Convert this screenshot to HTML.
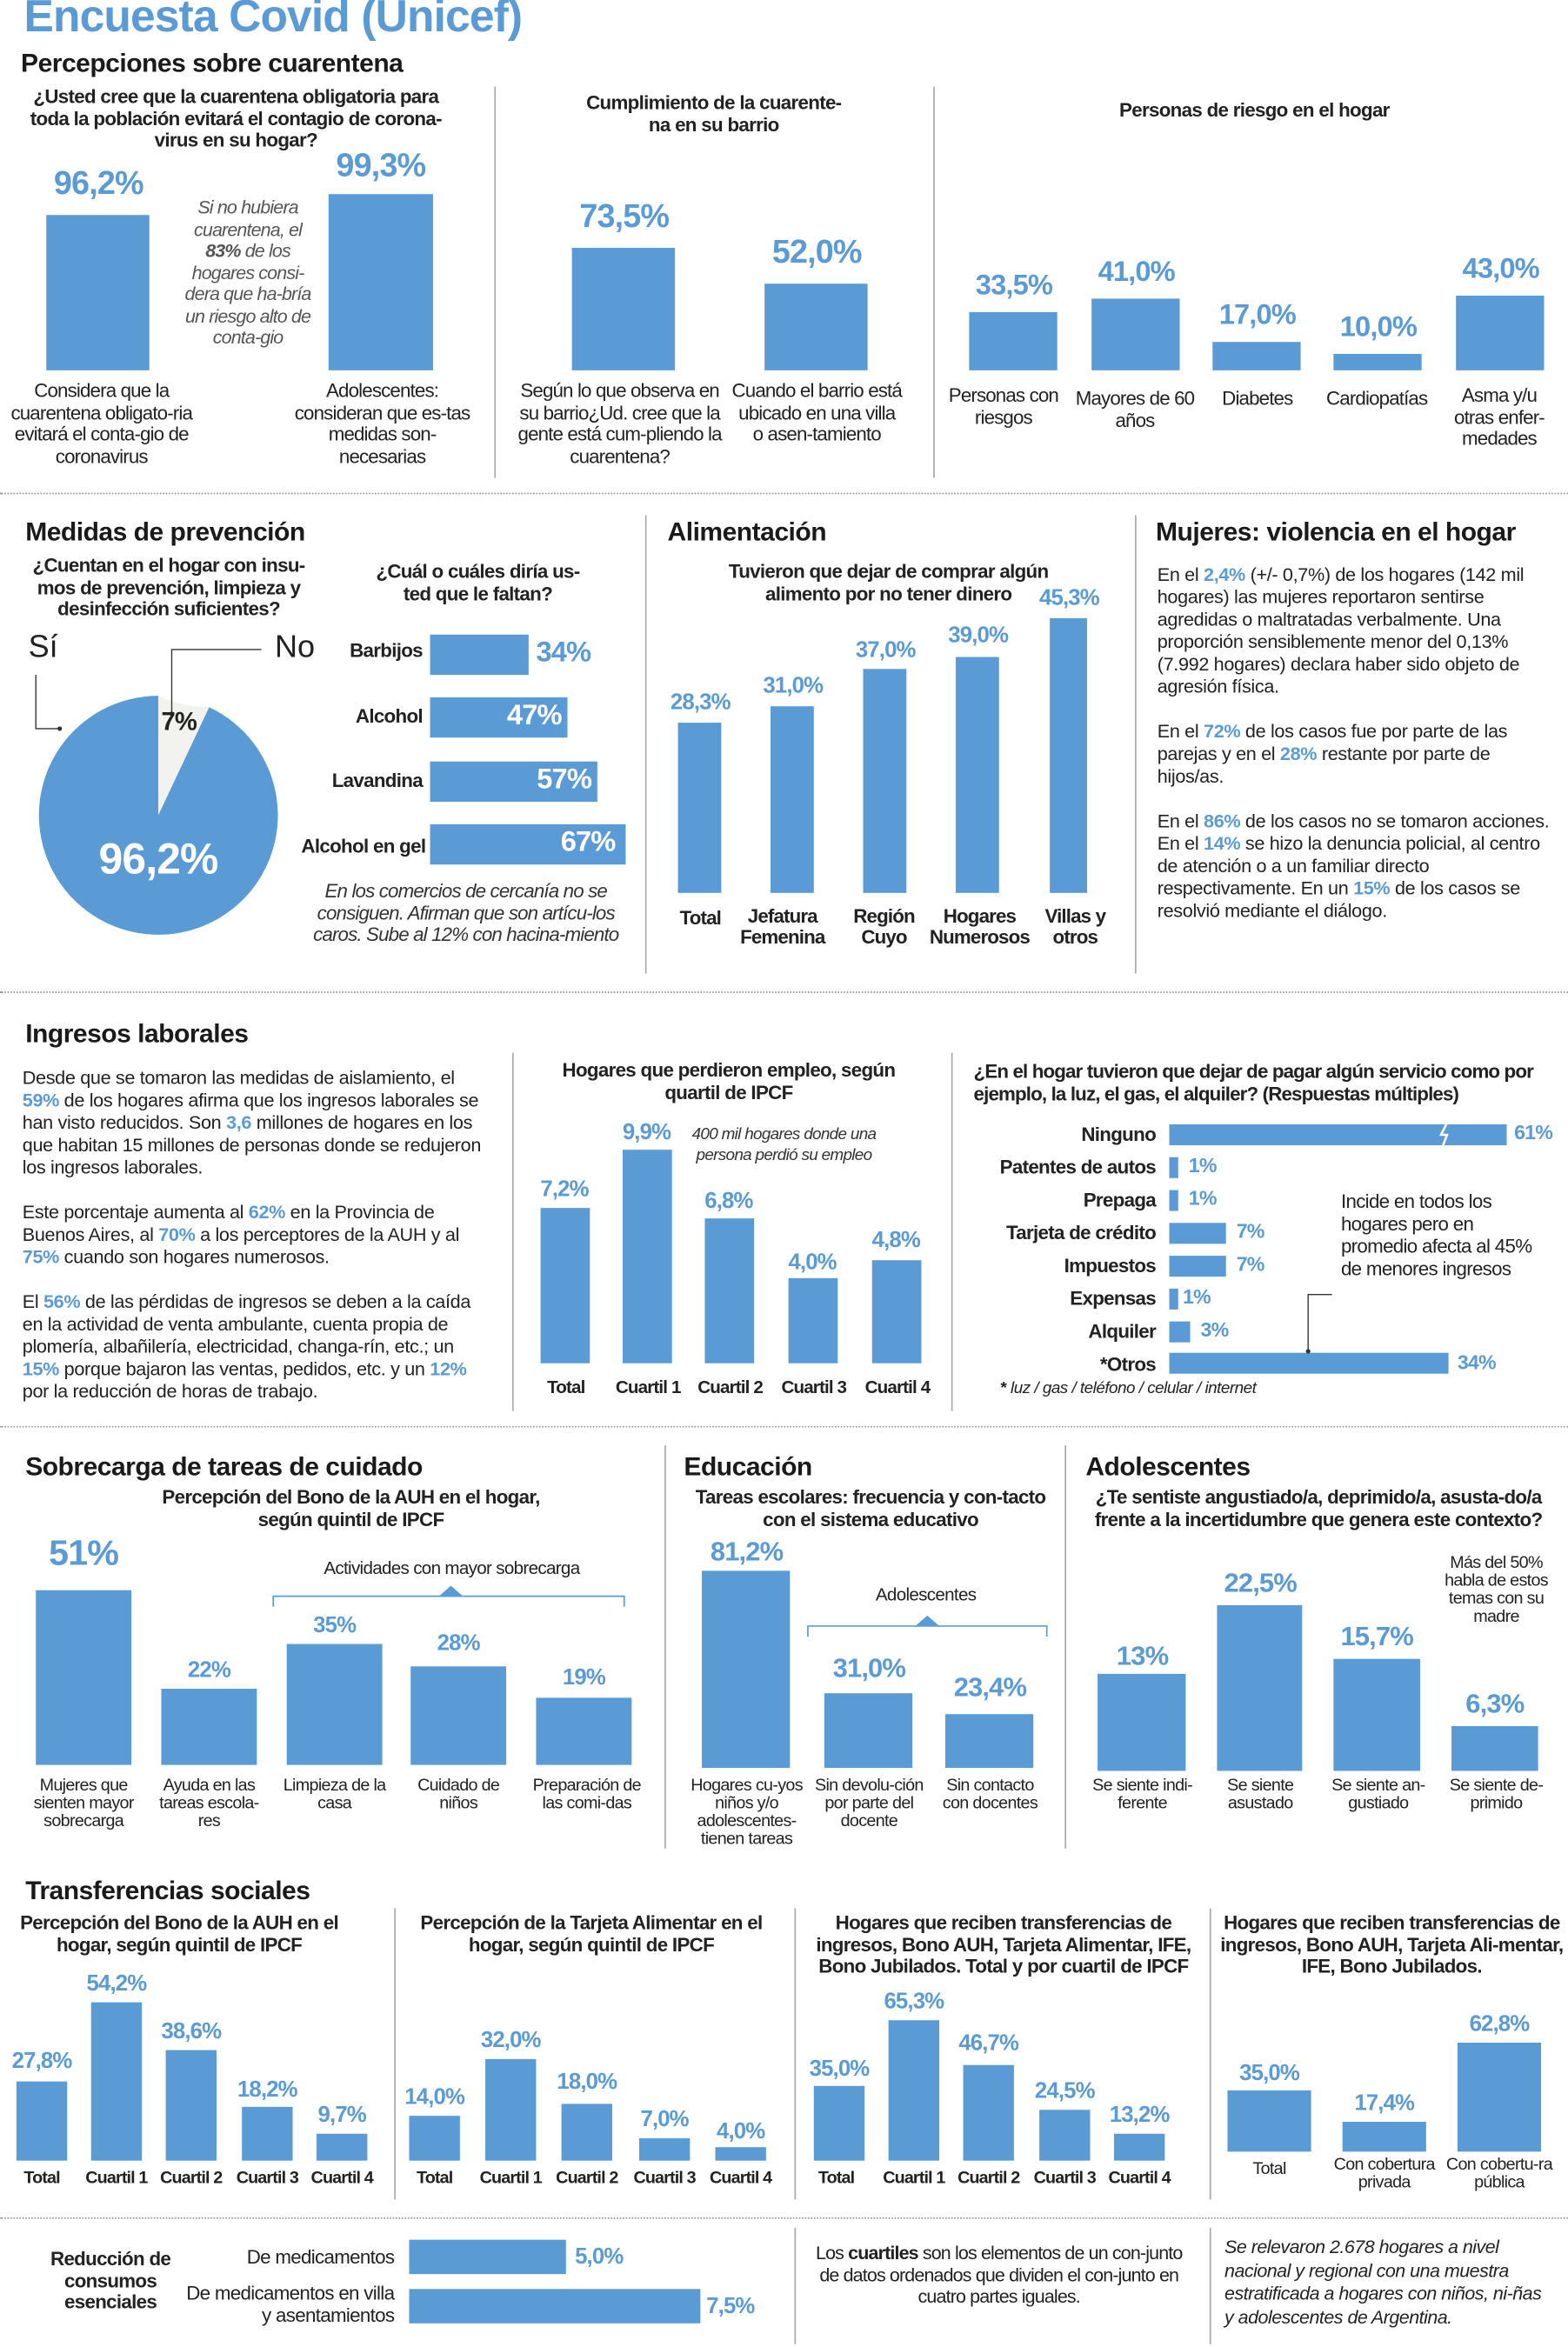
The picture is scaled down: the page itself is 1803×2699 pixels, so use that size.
<!DOCTYPE html>
<html><head><meta charset="utf-8">
<style>
*{margin:0;padding:0;box-sizing:border-box}
html,body{width:1803px;height:2698px;overflow:hidden;background:#fff}
#w{position:absolute;left:0;top:0;width:1050px;height:1572px;transform:scale(1.7171);transform-origin:0 0;font-family:"Liberation Sans Narrow","Liberation Sans",sans-serif;color:#222}
#w div{position:absolute}
.b{background:#5b9bd5}
.v{color:#5b9bd5;font-weight:bold;font-family:"Liberation Sans",sans-serif;text-align:center;letter-spacing:-0.5px}
.h{font-weight:bold;font-size:17.5px;color:#1a1a1a;white-space:nowrap;letter-spacing:-0.3px}
.q{font-weight:bold;font-size:13px;line-height:14.5px;text-align:center;letter-spacing:-0.4px}
.c{font-size:13px;line-height:14.5px;text-align:center;letter-spacing:-0.5px}
.s{font-size:11.5px;line-height:12px;text-align:center;letter-spacing:-0.4px}
.lb{font-weight:bold;font-size:13px;line-height:14px;text-align:center;letter-spacing:-0.5px}
.it{font-style:italic;color:#555}
.vl{border-left:1px solid #aaa;width:0}
.dl{border-top:1px dotted #999;height:0;left:0;width:1050px}
.p{font-family:"Liberation Sans",sans-serif;font-size:12.6px;line-height:15px;letter-spacing:-0.2px}
.p b{color:#5b9bd5}
.r{text-align:right;font-weight:bold;font-size:13px;white-space:nowrap;letter-spacing:-0.4px}
</style></head><body><div id="w">

<div style="left:16px;top:-5px;font-size:30px;font-weight:bold;color:#5b9bd5;font-family:'Liberation Sans',sans-serif;letter-spacing:-0.5px">Encuesta Covid (Unicef)</div>
<div class="h" style="left:14px;top:32px">Percepciones sobre cuarentena</div>

<div class="q" style="left:8px;top:58px;width:300px">¿Usted cree que la cuarentena obligatoria para toda la población evitará el contagio de corona-virus en su hogar?</div>
<div class="b" style="left:31px;top:144px;width:69px;height:104px"></div>
<div class="v" style="left:16px;top:110px;width:100px;font-size:22px">96,2%</div>
<div class="b" style="left:220px;top:130px;width:70px;height:118px"></div>
<div class="v" style="left:205px;top:98px;width:100px;font-size:22px">99,3%</div>
<div class="c it" style="left:118px;top:132px;width:96px;font-size:12.5px">Si no hubiera cuarentena, el <b>83%</b> de los hogares consi-dera que ha-bría un riesgo alto de conta-gio</div>
<div class="c" style="left:6px;top:255px;width:124px">Considera que la cuarentena obligato-ria evitará el conta-gio de coronavirus</div>
<div class="c" style="left:196px;top:255px;width:120px">Adolescentes: consideran que es-tas medidas son-necesarias</div>
<div class="vl" style="left:331px;top:58px;height:262px"></div>

<div class="q" style="left:378px;top:62px;width:200px">Cumplimiento de la cuarente-<br>na en su barrio</div>
<div class="b" style="left:383px;top:166px;width:69px;height:82px"></div>
<div class="v" style="left:368px;top:132px;width:100px;font-size:22px">73,5%</div>
<div class="b" style="left:512px;top:190px;width:69px;height:58px"></div>
<div class="v" style="left:497px;top:156px;width:100px;font-size:22px">52,0%</div>
<div class="c" style="left:342px;top:255px;width:146px">Según lo que observa en su barrio¿Ud. cree que la gente está cum-pliendo la cuarentena?</div>
<div class="c" style="left:490px;top:255px;width:114px">Cuando el barrio está ubicado en una villa o asen-tamiento</div>
<div class="vl" style="left:625px;top:58px;height:262px"></div>

<div class="q" style="left:700px;top:67px;width:280px">Personas de riesgo en el hogar</div>
<div class="b" style="left:649px;top:209px;width:59px;height:39px"></div><div class="v" style="left:634px;top:181px;width:90px;font-size:19px">33,5%</div>
<div class="b" style="left:731px;top:200px;width:59px;height:48px"></div><div class="v" style="left:716px;top:172px;width:90px;font-size:19px">41,0%</div>
<div class="b" style="left:812px;top:229px;width:59px;height:19px"></div><div class="v" style="left:797px;top:201px;width:90px;font-size:19px">17,0%</div>
<div class="b" style="left:893px;top:237px;width:59px;height:11px"></div><div class="v" style="left:878px;top:209px;width:90px;font-size:19px">10,0%</div>
<div class="b" style="left:975px;top:198px;width:59px;height:50px"></div><div class="v" style="left:960px;top:170px;width:90px;font-size:19px">43,0%</div>
<div class="c" style="left:628px;top:258px;width:88px">Personas con riesgos</div>
<div class="c" style="left:718px;top:260px;width:84px">Mayores de 60 años</div>
<div class="c" style="left:797px;top:260px;width:90px">Diabetes</div>
<div class="c" style="left:877px;top:260px;width:90px">Cardiopatías</div>
<div class="c" style="left:965px;top:258px;width:78px">Asma y/u otras enfer-medades</div>
<div class="dl" style="top:330px"></div>

<div class="h" style="left:17px;top:346px">Medidas de prevención</div>
<div class="q" style="left:13px;top:372px;width:200px">¿Cuentan en el hogar con insu-mos de prevención, limpieza y desinfección suficientes?</div>
<div style="left:19px;top:422px;font-size:21px">Sí</div>
<div style="left:184px;top:422px;font-size:21px">No</div>
<svg style="position:absolute;left:0;top:0" width="260" height="680">
<path d="M106,546 L140.1,473.6 A80,80 0 0 1 106,466 Z" fill="#f2f2ee"/>
<path d="M106,546 L140.1,473.6 A80,80 0 1 1 106,466 Z" fill="#5b9bd5"/>
<polyline points="24,452 24,488 40,488" fill="none" stroke="#333" stroke-width="0.8"/>
<circle cx="40" cy="488" r="1.5" fill="#333"/>
<polyline points="175,435 115,435 115,478" fill="none" stroke="#333" stroke-width="0.8"/>
<circle cx="115" cy="478" r="1.5" fill="#333"/>
</svg>
<div style="left:108px;top:474px;font-size:17px;font-weight:bold;font-family:'Liberation Sans',sans-serif;letter-spacing:-0.5px">7%</div>
<div class="v" style="left:46px;top:560px;width:120px;font-size:29px;color:#fff">96,2%</div>

<div class="q" style="left:235px;top:376px;width:170px">¿Cuál o cuáles diría us-<br>ted que le faltan?</div>
<div class="r" style="left:150px;top:428px;width:133px">Barbijos</div>
<div class="b" style="left:288px;top:425px;width:66px;height:27px"></div><div class="v" style="left:359px;top:427px;font-size:19px;text-align:left">34%</div>
<div class="r" style="left:150px;top:472px;width:133px">Alcohol</div>
<div class="b" style="left:288px;top:467px;width:92px;height:27px"></div><div class="v" style="left:330px;top:469px;width:46px;font-size:19px;color:#fff;text-align:right">47%</div>
<div class="r" style="left:150px;top:515px;width:133px">Lavandina</div>
<div class="b" style="left:288px;top:510px;width:112px;height:27px"></div><div class="v" style="left:350px;top:512px;width:46px;font-size:19px;color:#fff;text-align:right">57%</div>
<div class="r" style="left:150px;top:559px;width:135px">Alcohol en gel</div>
<div class="b" style="left:288px;top:552px;width:131px;height:27px"></div><div class="v" style="left:366px;top:554px;width:46px;font-size:19px;color:#fff;text-align:right">67%</div>
<div class="c it" style="left:198px;top:590px;width:228px;color:#333">En los comercios de cercanía no se consiguen. Afirman que son artícu-los caros. Sube al 12% con hacina-miento</div>
<div class="vl" style="left:432px;top:345px;height:307px"></div>

<div class="h" style="left:447px;top:346px">Alimentación</div>
<div class="q" style="left:470px;top:376px;width:250px">Tuvieron que dejar de comprar algún alimento por no tener dinero</div>
<div class="b" style="left:454px;top:484px;width:29px;height:114px"></div><div class="v" style="left:438px;top:462px;width:62px;font-size:15px">28,3%</div>
<div class="b" style="left:516px;top:473px;width:29px;height:125px"></div><div class="v" style="left:500px;top:451px;width:62px;font-size:15px">31,0%</div>
<div class="b" style="left:578px;top:448px;width:29px;height:150px"></div><div class="v" style="left:562px;top:427px;width:62px;font-size:15px">37,0%</div>
<div class="b" style="left:640px;top:440px;width:29px;height:158px"></div><div class="v" style="left:624px;top:417px;width:62px;font-size:15px">39,0%</div>
<div class="b" style="left:703px;top:414px;width:25px;height:184px"></div><div class="v" style="left:685px;top:392px;width:62px;font-size:15px">45,3%</div>
<div class="lb" style="left:439px;top:608px;width:60px">Total</div>
<div class="lb" style="left:492px;top:607px;width:64px">Jefatura Femenina</div>
<div class="lb" style="left:562px;top:607px;width:60px">Región Cuyo</div>
<div class="lb" style="left:618px;top:607px;width:76px">Hogares Numerosos</div>
<div class="lb" style="left:692px;top:607px;width:56px">Villas y otros</div>
<div class="vl" style="left:760px;top:345px;height:307px"></div>

<div class="h" style="left:774px;top:346px">Mujeres: violencia en el hogar</div>
<div class="p" style="left:775px;top:378px;width:268px">En el <b>2,4%</b> (+/- 0,7%) de los hogares (142 mil hogares) las mujeres reportaron sentirse agredidas o maltratadas verbalmente. Una proporción sensiblemente menor del 0,13% (7.992 hogares) declara haber sido objeto de agresión física.<br><br>En el <b>72%</b> de los casos fue por parte de las parejas y en el <b>28%</b> restante por parte de hijos/as.<br><br>En el <b>86%</b> de los casos no se tomaron acciones. En el <b>14%</b> se hizo la denuncia policial, al centro de atención o a un familiar directo respectivamente. En un <b>15%</b> de los casos se resolvió mediante el diálogo.</div>
<div class="dl" style="top:664px"></div>

<div class="h" style="left:17px;top:682px">Ingresos laborales</div>
<div class="p" style="left:15px;top:715px;width:316px">Desde que se tomaron las medidas de aislamiento, el <b>59%</b> de los hogares afirma que los ingresos laborales se han visto reducidos. Son <b>3,6</b> millones de hogares en los que habitan 15 millones de personas donde se redujeron los ingresos laborales.<br><br>Este porcentaje aumenta al <b>62%</b> en la Provincia de Buenos Aires, al <b>70%</b> a los perceptores de la AUH y al <b>75%</b> cuando son hogares numerosos.<br><br>El <b>56%</b> de las pérdidas de ingresos se deben a la caída en la actividad de venta ambulante, cuenta propia de plomería, albañilería, electricidad, changa-rín, etc.; un <b>15%</b> porque bajaron las ventas, pedidos, etc. y un <b>12%</b> por la reducción de horas de trabajo.</div>
<div class="vl" style="left:343px;top:705px;height:240px"></div>

<div class="q" style="left:360px;top:710px;width:256px">Hogares que perdieron empleo, según quartil de IPCF</div>
<div class="b" style="left:362px;top:809px;width:33px;height:104px"></div><div class="v" style="left:348px;top:788px;width:60px;font-size:15px">7,2%</div>
<div class="b" style="left:417px;top:770px;width:33px;height:143px"></div><div class="v" style="left:403px;top:750px;width:60px;font-size:15px">9,9%</div>
<div class="b" style="left:472px;top:816px;width:33px;height:97px"></div><div class="v" style="left:458px;top:796px;width:60px;font-size:15px">6,8%</div>
<div class="b" style="left:528px;top:856px;width:33px;height:57px"></div><div class="v" style="left:514px;top:837px;width:60px;font-size:15px">4,0%</div>
<div class="b" style="left:584px;top:844px;width:33px;height:69px"></div><div class="v" style="left:570px;top:822px;width:60px;font-size:15px">4,8%</div>
<div class="s it" style="left:460px;top:753px;width:130px;color:#333;line-height:14px;font-size:11px">400 mil hogares donde una persona perdió su empleo</div>
<div class="lb" style="left:349px;top:922px;width:60px;font-size:12px">Total</div>
<div class="lb" style="left:404px;top:922px;width:60px;font-size:12px">Cuartil 1</div>
<div class="lb" style="left:459px;top:922px;width:60px;font-size:12px">Cuartil 2</div>
<div class="lb" style="left:515px;top:922px;width:60px;font-size:12px">Cuartil 3</div>
<div class="lb" style="left:571px;top:922px;width:60px;font-size:12px">Cuartil 4</div>
<div class="vl" style="left:637px;top:705px;height:240px"></div>

<div class="q" style="left:652px;top:711px;width:398px;text-align:left;letter-spacing:-0.5px">¿En el hogar tuvieron que dejar de pagar algún servicio como por ejemplo, la luz, el gas, el alquiler? (Respuestas múltiples)</div>
<div class="r" style="left:640px;top:752px;width:134px">Ninguno</div><div class="b" style="left:783px;top:753px;width:226px;height:14px"></div><div class="v" style="left:1014px;top:751px;font-size:13.5px">61%</div>
<svg style="position:absolute;left:960px;top:752px" width="14" height="16"><polyline points="9,0 5,8 9,8 6,16" fill="none" stroke="#fff" stroke-width="1.5"/></svg>
<div class="r" style="left:640px;top:774px;width:134px">Patentes de autos</div><div class="b" style="left:783px;top:775px;width:6px;height:14px"></div><div class="v" style="left:796px;top:773px;font-size:13.5px">1%</div>
<div class="r" style="left:640px;top:796px;width:134px">Prepaga</div><div class="b" style="left:783px;top:797px;width:6px;height:14px"></div><div class="v" style="left:796px;top:795px;font-size:13.5px">1%</div>
<div class="r" style="left:640px;top:818px;width:134px">Tarjeta de crédito</div><div class="b" style="left:783px;top:819px;width:38px;height:14px"></div><div class="v" style="left:828px;top:817px;font-size:13.5px">7%</div>
<div class="r" style="left:640px;top:840px;width:134px">Impuestos</div><div class="b" style="left:783px;top:841px;width:38px;height:14px"></div><div class="v" style="left:828px;top:839px;font-size:13.5px">7%</div>
<div class="r" style="left:640px;top:862px;width:134px">Expensas</div><div class="b" style="left:783px;top:863px;width:6px;height:14px"></div><div class="v" style="left:792px;top:861px;font-size:13.5px">1%</div>
<div class="r" style="left:640px;top:884px;width:134px">Alquiler</div><div class="b" style="left:783px;top:885px;width:14px;height:14px"></div><div class="v" style="left:804px;top:883px;font-size:13.5px">3%</div>
<div class="r" style="left:640px;top:906px;width:134px">*Otros</div><div class="b" style="left:783px;top:906px;width:187px;height:14px"></div><div class="v" style="left:976px;top:905px;font-size:13.5px">34%</div>
<div style="left:898px;top:797px;width:135px;font-size:13px;line-height:15px;letter-spacing:-0.4px">Incide en todos los hogares pero en promedio afecta al 45% de menores ingresos</div>
<svg style="position:absolute;left:870px;top:860px" width="30" height="50"><polyline points="6,46 6,7 22,7" fill="none" stroke="#333" stroke-width="0.8"/><circle cx="6" cy="45" r="1.5" fill="#333"/></svg>
<div class="it" style="left:670px;top:924px;font-size:11px;color:#222;letter-spacing:-0.3px"><b style="font-style:normal">*</b> luz / gas / teléfono / celular / internet</div>
<div class="dl" style="top:955px"></div>

<div class="h" style="left:17px;top:972px">Sobrecarga de tareas de cuidado</div>
<div class="q" style="left:90px;top:996px;width:290px">Percepción del Bono de la AUH en el hogar, según quintil de IPCF</div>
<div class="b" style="left:24px;top:1065px;width:64px;height:117px"></div><div class="v" style="left:16px;top:1027px;width:80px;font-size:24px">51%</div>
<div class="b" style="left:108px;top:1131px;width:64px;height:51px"></div><div class="v" style="left:100px;top:1110px;width:80px;font-size:15px">22%</div>
<div class="b" style="left:192px;top:1101px;width:64px;height:81px"></div><div class="v" style="left:184px;top:1080px;width:80px;font-size:15px">35%</div>
<div class="b" style="left:275px;top:1116px;width:64px;height:66px"></div><div class="v" style="left:267px;top:1092px;width:80px;font-size:15px">28%</div>
<div class="b" style="left:359px;top:1137px;width:64px;height:45px"></div><div class="v" style="left:351px;top:1115px;width:80px;font-size:15px">19%</div>
<div class="s" style="left:195px;top:1044px;width:215px;font-size:12px">Actividades con mayor sobrecarga</div>
<svg style="position:absolute;left:180px;top:1060px" width="242" height="20"><polyline points="3,16 3,9 238,9 238,16" fill="none" stroke="#5b9bd5" stroke-width="1"/><polygon points="114,9 122,2 130,9" fill="#5b9bd5"/></svg>
<div class="s" style="left:14px;top:1190px;width:84px">Mujeres que sienten mayor sobrecarga</div>
<div class="s" style="left:102px;top:1190px;width:76px">Ayuda en las tareas escola-res</div>
<div class="s" style="left:188px;top:1190px;width:72px">Limpieza de la casa</div>
<div class="s" style="left:273px;top:1190px;width:68px">Cuidado de niños</div>
<div class="s" style="left:355px;top:1190px;width:76px">Preparación de las comi-das</div>
<div class="vl" style="left:445px;top:968px;height:270px"></div>

<div class="h" style="left:458px;top:972px">Educación</div>
<div class="q" style="left:465px;top:996px;width:236px">Tareas escolares: frecuencia y con-tacto con el sistema educativo</div>
<div class="b" style="left:470px;top:1052px;width:59px;height:132px"></div><div class="v" style="left:460px;top:1029px;width:80px;font-size:18px">81,2%</div>
<div class="b" style="left:552px;top:1134px;width:59px;height:50px"></div><div class="v" style="left:542px;top:1107px;width:80px;font-size:18px">31,0%</div>
<div class="b" style="left:633px;top:1148px;width:59px;height:36px"></div><div class="v" style="left:623px;top:1120px;width:80px;font-size:18px">23,4%</div>
<div class="s" style="left:560px;top:1062px;width:120px;font-size:12px">Adolescentes</div>
<svg style="position:absolute;left:538px;top:1080px" width="168" height="20"><polyline points="3,16 3,9 163,9 163,16" fill="none" stroke="#5b9bd5" stroke-width="1"/><polygon points="75,9 83,2 91,9" fill="#5b9bd5"/></svg>
<div class="s" style="left:460px;top:1190px;width:80px">Hogares cu-yos niños y/o adolescentes-tienen tareas</div>
<div class="s" style="left:545px;top:1190px;width:74px">Sin devolu-ción por parte del docente</div>
<div class="s" style="left:626px;top:1190px;width:74px">Sin contacto con docentes</div>
<div class="vl" style="left:713px;top:968px;height:270px"></div>

<div class="h" style="left:727px;top:972px">Adolescentes</div>
<div class="q" style="left:730px;top:996px;width:306px">¿Te sentiste angustiado/a, deprimido/a, asusta-do/a frente a la incertidumbre que genera este contexto?</div>
<div class="b" style="left:735px;top:1121px;width:59px;height:65px"></div><div class="v" style="left:725px;top:1099px;width:80px;font-size:18px">13%</div>
<div class="b" style="left:815px;top:1075px;width:57px;height:111px"></div><div class="v" style="left:804px;top:1050px;width:80px;font-size:18px">22,5%</div>
<div class="b" style="left:893px;top:1111px;width:58px;height:75px"></div><div class="v" style="left:882px;top:1086px;width:80px;font-size:18px">15,7%</div>
<div class="b" style="left:972px;top:1156px;width:58px;height:30px"></div><div class="v" style="left:961px;top:1131px;width:80px;font-size:18px">6,3%</div>
<div class="s" style="left:962px;top:1041px;width:80px">Más del 50% habla de estos temas con su madre</div>
<div class="s" style="left:724px;top:1190px;width:82px">Se siente indi-ferente</div>
<div class="s" style="left:805px;top:1190px;width:78px">Se siente asustado</div>
<div class="s" style="left:883px;top:1190px;width:80px">Se siente an-gustiado</div>
<div class="s" style="left:962px;top:1190px;width:80px">Se siente de-primido</div>

<div class="h" style="left:17px;top:1256px">Transferencias sociales</div>
<div class="q" style="left:6px;top:1281px;width:228px">Percepción del Bono de la AUH en el hogar, según quintil de IPCF</div>
<div class="b" style="left:11px;top:1394px;width:34px;height:53px"></div><div class="v" style="left:-2px;top:1372px;width:60px;font-size:15px">27,8%</div>
<div class="b" style="left:61px;top:1341px;width:34px;height:106px"></div><div class="v" style="left:48px;top:1320px;width:60px;font-size:15px">54,2%</div>
<div class="b" style="left:111px;top:1373px;width:34px;height:74px"></div><div class="v" style="left:98px;top:1352px;width:60px;font-size:15px">38,6%</div>
<div class="b" style="left:162px;top:1411px;width:34px;height:36px"></div><div class="v" style="left:149px;top:1391px;width:60px;font-size:15px">18,2%</div>
<div class="b" style="left:212px;top:1429px;width:34px;height:18px"></div><div class="v" style="left:199px;top:1408px;width:60px;font-size:15px">9,7%</div>
<div class="lb" style="left:-2px;top:1452px;width:60px;font-size:11.5px">Total</div>
<div class="lb" style="left:48px;top:1452px;width:60px;font-size:11.5px">Cuartil 1</div>
<div class="lb" style="left:98px;top:1452px;width:60px;font-size:11.5px">Cuartil 2</div>
<div class="lb" style="left:149px;top:1452px;width:60px;font-size:11.5px">Cuartil 3</div>
<div class="lb" style="left:199px;top:1452px;width:60px;font-size:11.5px">Cuartil 4</div>
<div class="vl" style="left:264px;top:1278px;height:195px"></div>

<div class="q" style="left:268px;top:1281px;width:256px">Percepción de la Tarjeta Alimentar en el hogar, según quintil de IPCF</div>
<div class="b" style="left:274px;top:1417px;width:34px;height:30px"></div><div class="v" style="left:261px;top:1396px;width:60px;font-size:15px">14,0%</div>
<div class="b" style="left:325px;top:1379px;width:34px;height:68px"></div><div class="v" style="left:312px;top:1358px;width:60px;font-size:15px">32,0%</div>
<div class="b" style="left:376px;top:1409px;width:34px;height:38px"></div><div class="v" style="left:363px;top:1386px;width:60px;font-size:15px">18,0%</div>
<div class="b" style="left:428px;top:1432px;width:34px;height:15px"></div><div class="v" style="left:415px;top:1411px;width:60px;font-size:15px">7,0%</div>
<div class="b" style="left:479px;top:1438px;width:34px;height:9px"></div><div class="v" style="left:466px;top:1419px;width:60px;font-size:15px">4,0%</div>
<div class="lb" style="left:261px;top:1452px;width:60px;font-size:11.5px">Total</div>
<div class="lb" style="left:312px;top:1452px;width:60px;font-size:11.5px">Cuartil 1</div>
<div class="lb" style="left:363px;top:1452px;width:60px;font-size:11.5px">Cuartil 2</div>
<div class="lb" style="left:415px;top:1452px;width:60px;font-size:11.5px">Cuartil 3</div>
<div class="lb" style="left:466px;top:1452px;width:60px;font-size:11.5px">Cuartil 4</div>
<div class="vl" style="left:532px;top:1278px;height:195px"></div>

<div class="q" style="left:545px;top:1281px;width:254px">Hogares que reciben transferencias de ingresos, Bono AUH, Tarjeta Alimentar, IFE, Bono Jubilados. Total y por cuartil de IPCF</div>
<div class="b" style="left:545px;top:1397px;width:34px;height:50px"></div><div class="v" style="left:532px;top:1377px;width:60px;font-size:15px">35,0%</div>
<div class="b" style="left:595px;top:1353px;width:34px;height:94px"></div><div class="v" style="left:582px;top:1332px;width:60px;font-size:15px">65,3%</div>
<div class="b" style="left:645px;top:1383px;width:34px;height:64px"></div><div class="v" style="left:632px;top:1360px;width:60px;font-size:15px">46,7%</div>
<div class="b" style="left:696px;top:1413px;width:34px;height:34px"></div><div class="v" style="left:683px;top:1392px;width:60px;font-size:15px">24,5%</div>
<div class="b" style="left:746px;top:1429px;width:34px;height:18px"></div><div class="v" style="left:733px;top:1408px;width:60px;font-size:15px">13,2%</div>
<div class="lb" style="left:530px;top:1452px;width:60px;font-size:11.5px">Total</div>
<div class="lb" style="left:582px;top:1452px;width:60px;font-size:11.5px">Cuartil 1</div>
<div class="lb" style="left:632px;top:1452px;width:60px;font-size:11.5px">Cuartil 2</div>
<div class="lb" style="left:683px;top:1452px;width:60px;font-size:11.5px">Cuartil 3</div>
<div class="lb" style="left:733px;top:1452px;width:60px;font-size:11.5px">Cuartil 4</div>
<div class="vl" style="left:810px;top:1278px;height:195px"></div>

<div class="q" style="left:817px;top:1281px;width:230px">Hogares que reciben transferencias de ingresos, Bono AUH, Tarjeta Ali-mentar, IFE, Bono Jubilados.</div>
<div class="b" style="left:822px;top:1400px;width:56px;height:41px"></div><div class="v" style="left:810px;top:1380px;width:80px;font-size:15px">35,0%</div>
<div class="b" style="left:899px;top:1421px;width:56px;height:20px"></div><div class="v" style="left:887px;top:1400px;width:80px;font-size:15px">17,4%</div>
<div class="b" style="left:976px;top:1368px;width:56px;height:73px"></div><div class="v" style="left:964px;top:1347px;width:80px;font-size:15px">62,8%</div>
<div class="s" style="left:810px;top:1447px;width:80px">Total</div>
<div class="s" style="left:884px;top:1444px;width:86px">Con cobertura privada</div>
<div class="s" style="left:966px;top:1444px;width:76px">Con cobertu-ra pública</div>
<div class="dl" style="top:1485px"></div>

<div class="q" style="left:14px;top:1506px;width:120px">Reducción de consumos esenciales</div>
<div style="left:120px;top:1504px;width:144px;text-align:right;font-size:13px;letter-spacing:-0.4px">De medicamentos</div>
<div class="b" style="left:274px;top:1500px;width:105px;height:23px"></div><div class="v" style="left:385px;top:1503px;font-size:15px">5,0%</div>
<div style="left:120px;top:1528px;width:144px;text-align:right;font-size:13px;line-height:15px;letter-spacing:-0.4px">De medicamentos en villa y asentamientos</div>
<div class="b" style="left:274px;top:1533px;width:195px;height:23px"></div><div class="v" style="left:473px;top:1536px;font-size:15px">7,5%</div>
<div class="vl" style="left:532px;top:1492px;height:78px"></div>
<div class="c" style="left:542px;top:1502px;width:254px;font-size:12.5px">Los <b>cuartiles</b> son los elementos de un con-junto de datos ordenados que dividen el con-junto en cuatro partes iguales.</div>
<div class="vl" style="left:810px;top:1492px;height:78px"></div>
<div class="it" style="left:820px;top:1498px;width:218px;font-size:12.5px;line-height:15.5px;color:#222;letter-spacing:-0.3px">Se relevaron 2.678 hogares a nivel nacional y regional con una muestra estratificada a hogares con niños, ni-ñas y adolescentes de Argentina.</div>

</div></body></html>
